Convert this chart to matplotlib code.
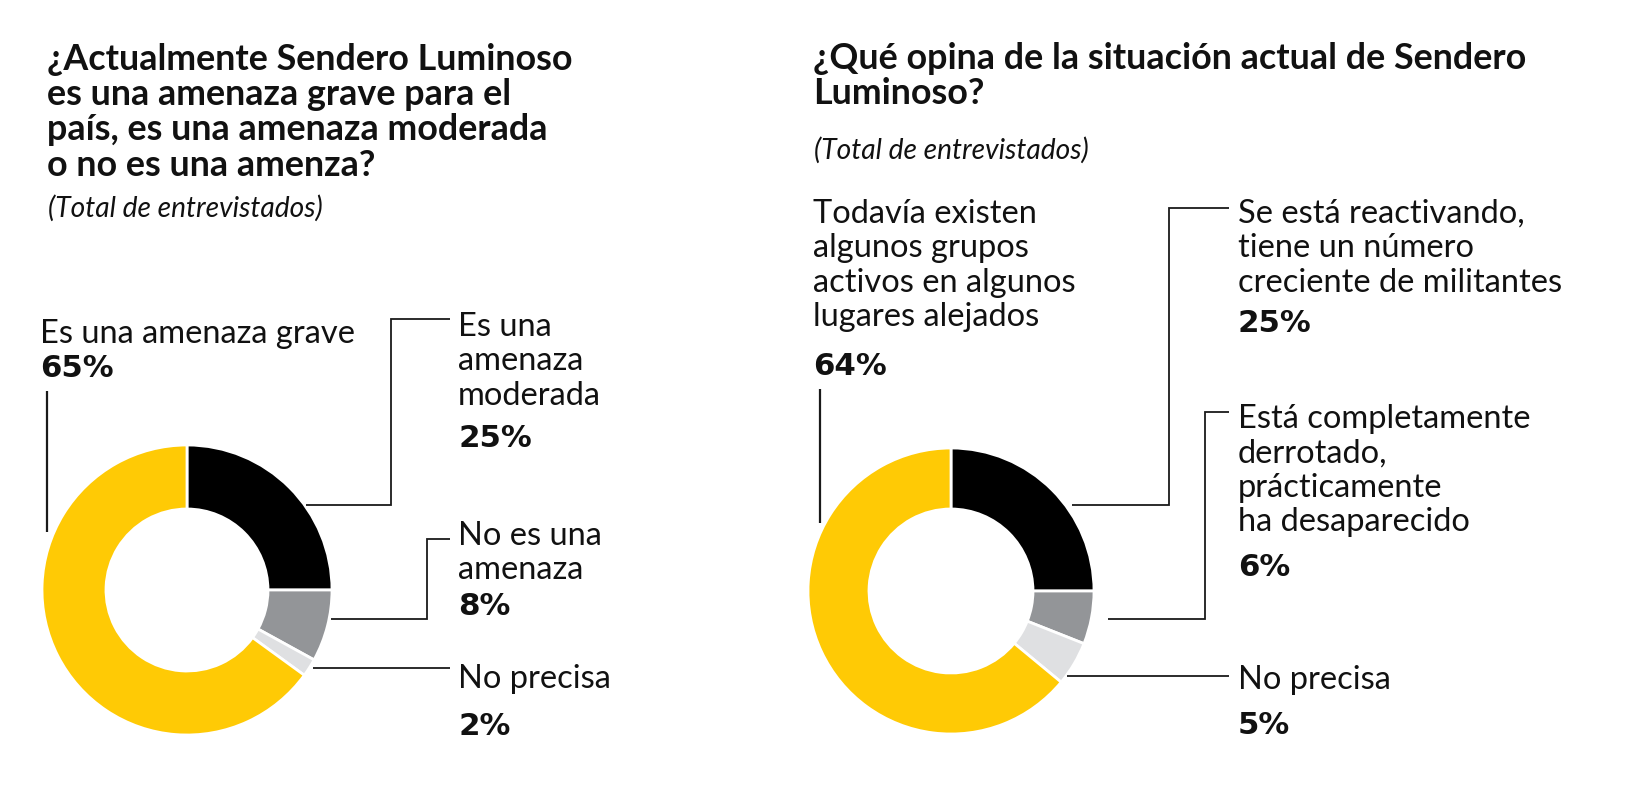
import matplotlib
matplotlib.use("Agg")
import matplotlib.pyplot as plt

# ---------------- data ----------------
left_title = ["¿Actualmente Sendero Luminoso",
              "es una amenaza grave para el",
              "país, es una amenaza moderada",
              "o no es una amenza?"]
right_title = ["¿Qué opina de la situación actual de Sendero",
               "Luminoso?"]
subtitle = "(Total de entrevistados)"

left_labels = [["Es una", "amenaza", "moderada"],
               ["No es una", "amenaza"],
               ["No precisa"],
               ["Es una amenaza grave"]]
left_values = [25, 8, 2, 65]

right_labels = [["Se está reactivando,", "tiene un número", "creciente de militantes"],
                ["Está completamente", "derrotado,", "prácticamente", "ha desaparecido"],
                ["No precisa"],
                ["Todavía existen", "algunos grupos", "activos en algunos", "lugares alejados"]]
right_values = [25, 6, 5, 64]

colors = ["#000000", "#939598", "#DFE0E2", "#FFCA05"]

# ---------------- layout ----------------
W, H = 1629, 812
fig = plt.figure(figsize=(W / 100, H / 100), dpi=100)
fig.patch.set_facecolor("white")
ax = fig.add_axes([0, 0, 1, 1])
renderer = fig.canvas.get_renderer()

TXT = "Lato"
PCT = "DejaVu Sans"
LINE_C = "#1a1a1a"


def fit(text, target, **kw):
    t = fig.text(0, 0, text, fontsize=20, **kw)
    w = t.get_window_extent(renderer).width
    t.remove()
    return 20 * target / w


fs_title = fit(right_title[0], 713, family=TXT, weight="bold")
fs_sub = fit(subtitle, 274, family=TXT, style="italic")
fs_lab = fit("creciente de militantes", 326, family=TXT)
fs_pct = fit("25%", 74, family=PCT, weight="bold")


def txt(x, y, s, size, **kw):
    ax.text(x, H - y, s, fontsize=size, ha="left", va="baseline",
            color="#111111", **kw)


def line(pts, lw=1.3):
    ax.plot([p[0] for p in pts], [H - p[1] for p in pts], color=LINE_C,
            lw=lw, solid_joinstyle="miter", solid_capstyle="butt")


# titles
for i, s in enumerate(left_title):
    txt(47, 70 + i * 35.2, s, fs_title, family=TXT, weight="bold")
txt(48, 216.5, subtitle, fs_sub, family=TXT, style="italic")
for i, s in enumerate(right_title):
    txt(813, 69 + i * 35.0, s, fs_title, family=TXT, weight="bold")
txt(814, 159, subtitle, fs_sub, family=TXT, style="italic")

# donuts
wp = dict(edgecolor="white", linewidth=2.0)
ax.pie(left_values, colors=colors, startangle=90, counterclock=False,
       radius=145, center=(187, H - 591), wedgeprops=dict(width=64, **wp))
ax.pie(right_values, colors=colors, startangle=90, counterclock=False,
       radius=143, center=(951, H - 592), wedgeprops=dict(width=61, **wp))

LS = 34.3  # line spacing of labels


def label_block(x, y0, lines, value, pct_y):
    for i, s in enumerate(lines):
        txt(x, y0 + i * LS, s, fs_lab, family=TXT)
    txt(x, pct_y, f"{value}%", fs_pct, family=PCT, weight="bold")


# left chart labels
label_block(40, 343.5, left_labels[3], left_values[3], 377)
label_block(458, 336, left_labels[0], left_values[0], 447)
label_block(458, 545, left_labels[1], left_values[1], 615)
label_block(458, 688.5, left_labels[2], left_values[2], 735)

# right chart labels
label_block(813, 223, right_labels[3], right_values[3], 375)
label_block(1238, 223, right_labels[0], right_values[0], 332)
label_block(1238, 428.5, right_labels[1], right_values[1], 576.5)
label_block(1238, 689, right_labels[2], right_values[2], 734.5)

# leader lines (left)
line([(46.7, 392), (46.7, 533)], lw=1.6)
line([(306, 506), (391, 506), (391, 319.5), (450, 319.5)])
line([(331, 620), (426.5, 620), (426.5, 540), (450, 540)])
line([(313, 668.5), (450, 668.5)])

# leader lines (right)
line([(820, 390), (820, 524)], lw=1.6)
line([(1072, 505.5), (1169, 505.5), (1169, 209), (1229, 209)])
line([(1108, 620), (1205.5, 620), (1205.5, 412.5), (1229, 412.5)])
line([(1067, 676.5), (1229, 676.5)])

ax.set_xlim(0, W)
ax.set_ylim(0, H)
ax.set_aspect("equal")
ax.axis("off")

fig.savefig("out.png", dpi=100, facecolor="white")
